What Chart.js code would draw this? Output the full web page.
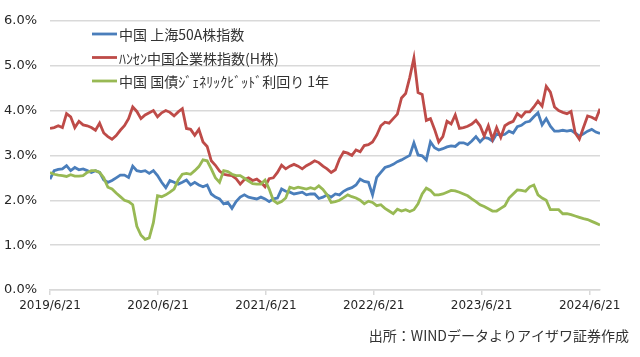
<!DOCTYPE html>
<html><head><meta charset="utf-8">
<script src="https://cdn.jsdelivr.net/npm/chart.js@4.4.1/dist/chart.umd.min.js"></script>
<style>html,body{margin:0;padding:0;background:#fff;}#wrap{width:640px;height:357px;position:relative;}</style>
</head><body><div id="wrap"><canvas id="c" width="640" height="357"></canvas></div>
<script>
const dates = [
'2019-06-21','2019-07-05','2019-07-19','2019-08-02','2019-08-16','2019-08-30','2019-09-13','2019-09-27','2019-10-11','2019-10-25','2019-11-08','2019-11-22','2019-12-06','2019-12-20',
'2020-01-03','2020-01-17','2020-01-31','2020-02-14','2020-02-28','2020-03-13','2020-03-27','2020-04-10','2020-04-24','2020-05-08','2020-05-22','2020-06-05','2020-06-19','2020-07-03','2020-07-17','2020-07-31','2020-08-14','2020-08-28','2020-09-11','2020-09-25','2020-10-09','2020-10-23','2020-11-06','2020-11-20','2020-12-04','2020-12-18',
'2021-01-01','2021-01-15','2021-01-29','2021-02-12','2021-02-26','2021-03-12','2021-03-26','2021-04-09','2021-04-23','2021-05-07','2021-05-21','2021-06-04','2021-06-18','2021-07-02','2021-07-16','2021-07-30','2021-08-13','2021-08-27','2021-09-10','2021-09-24','2021-10-08','2021-10-22','2021-11-05','2021-11-19','2021-12-03','2021-12-17','2021-12-31',
'2022-01-14','2022-01-28','2022-02-11','2022-02-25','2022-03-11','2022-03-25','2022-04-08','2022-04-22','2022-05-06','2022-05-20','2022-06-03','2022-06-17','2022-07-01','2022-07-15','2022-07-29','2022-08-12','2022-08-26','2022-09-09','2022-09-23','2022-10-07','2022-10-21','2022-11-04','2022-11-18','2022-12-02','2022-12-16','2022-12-30',
'2023-01-13','2023-01-27','2023-02-10','2023-02-24','2023-03-10','2023-03-24','2023-04-07','2023-04-21','2023-05-05','2023-05-19','2023-06-02','2023-06-16','2023-06-30','2023-07-14','2023-07-28','2023-08-11','2023-08-25','2023-09-08','2023-09-22','2023-10-06','2023-10-20','2023-11-03','2023-11-17','2023-12-01','2023-12-15','2023-12-29',
'2024-01-12','2024-01-26','2024-02-09','2024-02-23','2024-03-08','2024-03-22','2024-04-05','2024-04-19','2024-05-03','2024-05-17','2024-05-31','2024-06-14','2024-06-28','2024-07-12','2024-07-26'
];
const sse50 = [
2.47,2.66,2.69,2.70,2.77,2.66,2.73,2.68,2.70,2.66,2.62,2.66,2.62,2.45,
2.40,2.44,2.50,2.56,2.56,2.51,2.76,2.66,2.64,2.66,2.60,2.66,2.55,2.40,2.28,2.44,2.40,2.36,2.40,2.45,2.34,2.40,2.34,2.30,2.34,2.14,
2.07,2.03,1.92,1.95,1.82,1.97,2.07,2.12,2.07,2.05,2.03,2.07,2.03,1.97,2.03,2.05,2.25,2.20,2.18,2.14,2.16,2.18,2.12,2.14,2.14,2.04,2.07,
2.12,2.07,2.14,2.12,2.20,2.25,2.28,2.34,2.47,2.42,2.40,2.12,2.51,2.62,2.73,2.76,2.80,2.86,2.90,2.95,3.00,3.28,3.01,2.99,2.90,3.30,
3.17,3.12,3.15,3.19,3.21,3.20,3.28,3.28,3.24,3.32,3.42,3.30,3.40,3.38,3.32,3.48,3.45,3.47,3.54,3.50,3.64,3.67,3.74,3.76,3.86,3.95,
3.68,3.82,3.65,3.54,3.54,3.56,3.54,3.56,3.50,3.43,3.48,3.54,3.58,3.52,3.49
];
const hscei = [
3.60,3.62,3.66,3.62,3.93,3.86,3.62,3.76,3.68,3.66,3.62,3.56,3.72,3.50,
3.42,3.36,3.44,3.56,3.66,3.82,4.08,3.98,3.82,3.90,3.95,4.00,3.86,3.95,4.00,3.96,3.88,3.97,4.04,3.60,3.58,3.45,3.58,3.30,3.20,2.88,
2.78,2.65,2.58,2.56,2.55,2.48,2.36,2.46,2.50,2.44,2.47,2.40,2.30,2.48,2.50,2.62,2.78,2.70,2.76,2.80,2.76,2.70,2.77,2.82,2.88,2.84,2.76,
2.70,2.62,2.68,2.92,3.08,3.05,3.00,3.12,3.08,3.22,3.24,3.30,3.45,3.66,3.74,3.72,3.82,3.92,4.28,4.38,4.74,5.17,4.40,4.36,3.78,3.82,
3.58,3.30,3.42,3.76,3.70,3.90,3.60,3.62,3.65,3.70,3.78,3.66,3.43,3.66,3.36,3.62,3.40,3.66,3.72,3.76,3.93,3.86,3.97,3.97,4.08,4.21,
4.10,4.54,4.41,4.08,4.00,3.96,3.93,3.98,3.50,3.36,3.62,3.88,3.85,3.80,4.04
];
const cgb1y = [
2.62,2.58,2.56,2.55,2.53,2.57,2.54,2.54,2.55,2.62,2.66,2.66,2.62,2.50,
2.29,2.25,2.16,2.08,2.00,1.97,1.90,1.42,1.22,1.13,1.16,1.50,2.10,2.08,2.12,2.18,2.25,2.45,2.58,2.60,2.58,2.66,2.75,2.90,2.88,2.70,
2.50,2.40,2.66,2.64,2.58,2.55,2.55,2.49,2.43,2.37,2.36,2.36,2.45,2.25,2.00,1.93,1.97,2.05,2.29,2.26,2.29,2.27,2.25,2.28,2.25,2.32,2.24,
2.12,1.95,1.97,2.00,2.06,2.12,2.08,2.05,2.00,1.92,1.98,1.95,1.88,1.90,1.82,1.76,1.70,1.80,1.76,1.79,1.75,1.79,1.92,2.14,2.27,2.22,
2.12,2.12,2.14,2.18,2.22,2.21,2.18,2.14,2.10,2.03,1.97,1.90,1.86,1.81,1.76,1.76,1.82,1.88,2.05,2.14,2.23,2.22,2.20,2.30,2.34,2.12,
2.05,2.00,1.79,1.79,1.79,1.70,1.70,1.68,1.65,1.62,1.59,1.57,1.53,1.49,1.45
];
const seriesLabels = ['中国 上海50A株指数','ﾊﾝｾﾝ中国企業株指数(H株)','中国 国債ｼﾞｪﾈﾘｯｸﾋﾞｯﾄﾞ利回り 1年'];
const xTickLabels = ['2019/6/21','2020/6/21','2021/6/21','2022/6/21','2023/6/21','2024/6/21'];
const yTickValues = [0,1,2,3,4,5,6];
const sourceText = '出所：WINDデータよりアイザワ証券作成';

const colors = ['#4a7ebb','#be4b48','#98b954'];
const DAY = 86400000;
function toUTC(s){const p=s.split(/[-\/]/).map(Number);return Date.UTC(p[0],p[1]-1,p[2]);}
const t0 = toUTC(dates[0]);
const dayOf = s => Math.round((toUTC(s)-t0)/DAY);
const xs = dates.map(dayOf);
const tickDays = xTickLabels.map(dayOf);
const mk = (arr)=>arr.map((v,i)=>({x:xs[i],y:v}));

const legendPlugin = {
  id:'inlegend',
  afterDraw(chart){
    const ctx=chart.ctx;
    ctx.save();
    const rows=[34,57.5,81];
    ctx.font='14px "Noto Sans CJK JP", sans-serif';
    ctx.textBaseline='middle';
    ctx.fillStyle='#333333';
    seriesLabels.forEach((lab,i)=>{
      ctx.strokeStyle=colors[i];ctx.lineWidth=2.8;ctx.lineCap='butt';
      ctx.beginPath();ctx.moveTo(92,rows[i]);ctx.lineTo(117,rows[i]);ctx.stroke();
      ctx.fillText(lab,119,rows[i]+1);
    });
    ctx.textAlign='right';
    ctx.fillText(sourceText,629,336);
    ctx.restore();
  }
};

new Chart(document.getElementById('c'),{
  type:'line',
  data:{datasets:[
    {label:seriesLabels[0],data:mk(sse50),borderColor:colors[0],borderWidth:2.8,pointRadius:0,tension:0,order:3},
    {label:seriesLabels[1],data:mk(hscei),borderColor:colors[1],borderWidth:2.8,pointRadius:0,tension:0,order:2},
    {label:seriesLabels[2],data:mk(cgb1y),borderColor:colors[2],borderWidth:2.8,pointRadius:0,tension:0,order:1}
  ]},
  options:{
    responsive:false,animation:false,
    layout:{padding:{left:0,right:40,top:15,bottom:0}},
    plugins:{legend:{display:false},tooltip:{enabled:false}},
    scales:{
      x:{type:'linear',min:0,max:xs[xs.length-1],
        afterFit(s){s.height=67;},
        afterBuildTicks(s){s.ticks=tickDays.map(v=>({value:v}));},
        ticks:{autoSkip:false,maxRotation:0,padding:4,color:'#262626',font:{family:'DejaVu Sans',size:12},
          callback:(v)=>{const k=tickDays.indexOf(v);return k>=0?xTickLabels[k]:'';}},
        grid:{drawOnChartArea:false,drawTicks:true,tickLength:5,color:'#d9d9d9',lineWidth:1.5},
        border:{display:true,color:'#d9d9d9',width:1.5}
      },
      y:{min:0,max:6,
        afterFit(s){s.width=50;},
        afterBuildTicks(s){s.ticks=yTickValues.map(v=>({value:v}));},
        ticks:{padding:13,color:'#262626',font:{family:'DejaVu Sans',size:13},callback:v=>v.toFixed(1)+'%'},
        grid:{color:'#d9d9d9',lineWidth:1.5,drawTicks:false},
        border:{display:false}
      }
    }
  },
  plugins:[legendPlugin]
});
</script></body></html>
